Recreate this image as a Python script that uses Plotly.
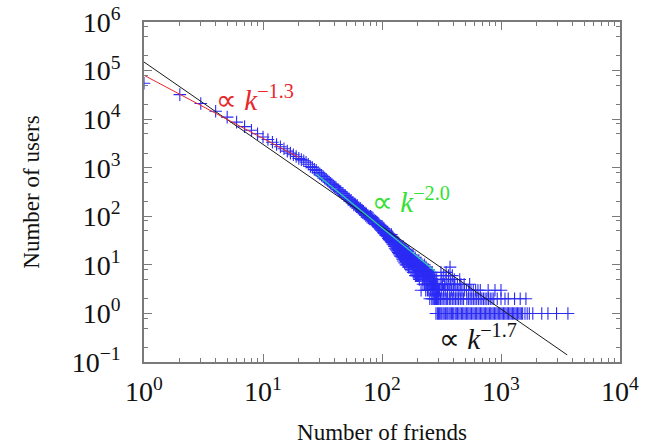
import plotly.graph_objects as go

# Degree distribution: number of users having k friends
head_k = [1, 2, 3, 4, 5, 6, 7, 8, 9, 10, 11, 12, 13, 14, 15, 16, 17, 18, 19]
head_n = [55000, 32000, 21000, 14500, 11000, 8700, 7000, 5900, 5000, 4300,
          3800, 3350, 3000, 2700, 2450, 2200, 2000, 1850, 1700]

band_k = list(range(20, 300))
band_n = (
    [1560, 1470, 1390, 1300, 1180, 1060, 1010, 925, 880, 800, 745, 700, 660, 610, 575, 540, 505, 480, 450, 425]
    + [405, 392, 360, 352, 330, 322, 298, 296, 268, 272, 248, 244, 225, 226, 205, 214, 190, 194, 172, 180]
    + [172, 158, 166, 148, 150, 138, 145, 128, 134, 120, 126, 112, 118, 104, 112, 96, 104, 92, 98, 88]
    + [100, 90, 96, 82, 92, 78, 84, 72, 80, 68, 76, 64, 72, 60, 68, 58, 64, 55, 62, 52]
    + [62, 50, 58, 46, 56, 44, 52, 41, 50, 40, 46, 38, 44, 35, 42, 33, 40, 32, 38, 30]
    + [42, 29, 38, 27, 36, 26, 34, 24, 33, 22, 31, 21, 30, 20, 29, 19, 27, 18, 26, 17,
       25, 16, 24, 15, 23, 15, 22, 14, 21, 13]
    + [24, 12, 20, 14, 22, 11, 19, 15, 21, 10, 18, 13, 20, 10, 16, 12, 19, 9, 15, 13,
       17, 9, 14, 11, 16, 8, 13, 11, 15, 8, 14, 10, 16, 7, 12, 10, 13, 7, 12, 9,
       14, 6, 11, 9, 12, 6, 10, 8, 11, 6]
    + [11, 7, 9, 6, 12, 8, 5, 10, 7, 9, 6, 8, 11, 3, 7, 9, 6, 10, 5, 8,
       7, 4, 9, 6, 8, 5, 7, 10, 4, 6, 8, 5, 7, 3, 9, 6, 4, 7, 5, 8,
       6, 3, 7, 5, 4, 8, 6, 3, 5, 7, 4, 6, 2, 5, 7, 3, 6, 4, 5, 3,
       6, 4, 2, 5, 7, 3, 4, 6, 2, 5, 3, 4, 6, 2, 4, 3, 5, 2, 4, 3,
       5, 2, 4, 3, 1, 4, 3, 2, 5, 3, 2, 4, 1, 3, 2, 4, 3, 2, 1, 3]
)

# Tail (k >= 300): friend counts observed for small user counts
tail_k1 = [305, 312, 318, 326, 333, 341, 350, 357, 366, 374, 383, 392, 401, 412, 421, 431,
           442, 453, 465, 476, 488, 500, 512, 525, 538, 551, 565, 580, 594, 609, 624, 640,
           656, 672, 689, 706, 724, 742, 760, 779, 799, 819, 839, 860, 882, 904, 927, 950,
           974, 998, 1023, 1049, 1075, 1102, 1130, 1158, 1187, 1217, 1247, 1278, 1310, 1343,
           1377, 1411, 1447, 1483, 1520, 1590, 1660, 1730, 1850, 2200, 2480, 2930, 3650]
tail_k2 = [302, 310, 319, 327, 338, 347, 356, 368, 378, 390, 402, 414, 427, 440, 455, 470,
           485, 516, 532, 550, 568, 586, 605, 625, 646, 668, 690, 712, 735, 760, 785, 812,
           840, 870, 930, 1000, 1080, 1150, 1300, 1450, 1620]
tail_k3 = [304, 315, 329, 340, 355, 371, 385, 400, 418, 436, 452, 470, 492, 512, 535, 560,
           585, 612, 640, 670, 780, 890, 1000]
tail_k4 = [308, 322, 336, 352, 364, 380, 396, 410, 430, 460, 490, 545]
tail_k5 = [318, 345, 375, 405, 450]
tail_k6 = [330, 362, 390]
tail_k7 = [313, 346]
tail_k9 = [373]

# Power-law guides (end points of each fitted segment)
red_k, red_n = [1, 20], [80000, 1630]
green_k, green_n = [28, 280], [740, 7.4]
black_k, black_n = [1, 3600], [150000, 0.14]

xs = head_k + band_k
ys = head_n + band_n
for count, ks in [(1, tail_k1), (2, tail_k2), (3, tail_k3), (4, tail_k4),
                  (5, tail_k5), (6, tail_k6), (7, tail_k7), (9, tail_k9)]:
    xs += ks
    ys += [count] * len(ks)

FONT = "Liberation Serif"
AXIS = "#7a7a7a"

fig = go.Figure()
fig.add_trace(go.Scatter(
    x=xs, y=ys, mode="markers",
    marker=dict(symbol="cross-thin", size=9, line=dict(width=1.1, color="#2b2bf5")),
))
fig.add_trace(go.Scatter(x=black_k, y=black_n, mode="lines",
                         line=dict(color="#1a1a1a", width=1)))
fig.add_trace(go.Scatter(x=red_k, y=red_n, mode="lines",
                         line=dict(color="#e8262a", width=1)))
fig.add_trace(go.Scatter(x=green_k, y=green_n, mode="lines",
                         line=dict(color="#2fd0b0", width=1.2)))

x_major = [1, 10, 100, 1000, 10000]
x_labels = ["10<sup>0</sup>", "10<sup>1</sup>", "10<sup>2</sup>", "10<sup>3</sup>", "10<sup>4</sup>"]
y_major = [0.1, 1, 10, 100, 1000, 10000, 100000, 1000000]
y_labels = ["10<sup>−1</sup>", "10<sup>0</sup>", "10<sup>1</sup>", "10<sup>2</sup>",
            "10<sup>3</sup>", "10<sup>4</sup>", "10<sup>5</sup>", "10<sup>6</sup>"]
x_minor = [m * 10 ** e for e in range(0, 4) for m in range(2, 10)]
y_minor = [m * 10.0 ** e for e in range(-1, 6) for m in (2, 5, 8)]

axis_common = dict(
    type="log", showgrid=False, zeroline=False, automargin=False,
    showline=True, linecolor=AXIS, linewidth=1.5, mirror="allticks",
    ticks="inside", ticklen=8, tickwidth=1, tickcolor=AXIS,
    tickfont=dict(family=FONT, size=28, color="#111"),
    tickmode="array",
)

fig.update_xaxes(
    **axis_common, range=[0, 4], tickvals=x_major, ticktext=x_labels,
    ticklabelstandoff=4,
    minor=dict(tickmode="array", tickvals=x_minor, ticks="inside", ticklen=4,
               tickcolor=AXIS, showgrid=False),
    title=dict(text="Number of friends", font=dict(family=FONT, size=23, color="#111"),
               standoff=24),
)
fig.update_yaxes(
    **axis_common, range=[-1, 6], tickvals=y_major, ticktext=y_labels,
    ticklabelstandoff=16,
    minor=dict(tickmode="array", tickvals=y_minor, ticks="inside", ticklen=4,
               tickcolor=AXIS, showgrid=False),
    title=dict(text="Number of users", font=dict(family=FONT, size=23, color="#111"),
               standoff=26),
)

ann_font = dict(family=FONT, size=29)
fig.add_annotation(x=0.585, y=4.44, xanchor="left", yanchor="middle", showarrow=False,
                   text="∝ <i>k</i><sup>−1.3</sup>", font=dict(**ann_font, color="#e8262a"))
fig.add_annotation(x=1.895, y=2.33, xanchor="left", yanchor="middle", showarrow=False,
                   text="∝ <i>k</i><sup>−2.0</sup>", font=dict(**ann_font, color="#33e033"))
fig.add_annotation(x=2.46, y=-0.48, xanchor="left", yanchor="middle", showarrow=False,
                   text="∝ <i>k</i><sup>−1.7</sup>", font=dict(**ann_font, color="#111"))

fig.update_layout(
    width=645, height=445,
    margin=dict(l=144, r=25, t=22, b=83, autoexpand=False),
    paper_bgcolor="white", plot_bgcolor="white",
    showlegend=False,
)

fig.write_html("out.html")
